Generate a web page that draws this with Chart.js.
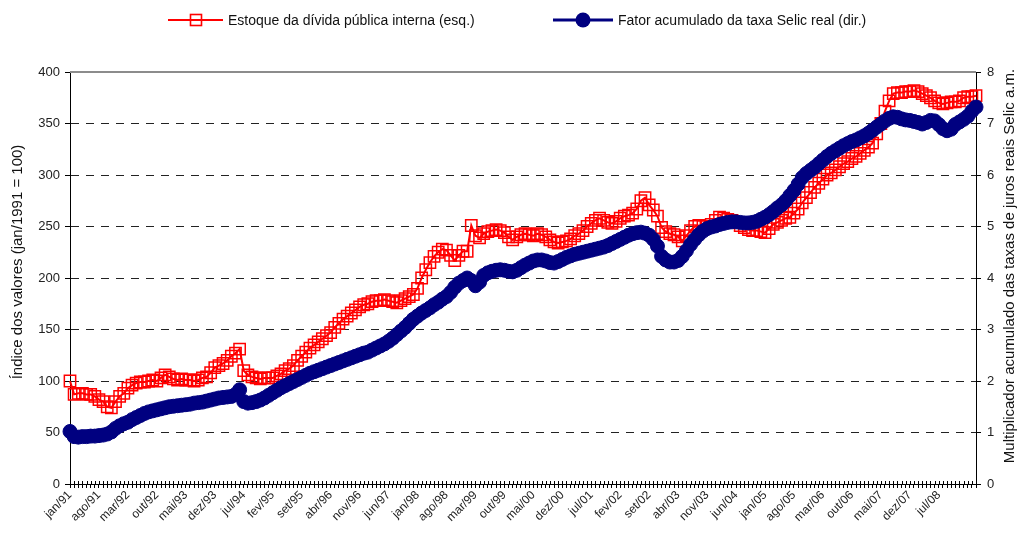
<!DOCTYPE html>
<html><head><meta charset="utf-8">
<script src="https://cdn.jsdelivr.net/npm/chart.js@4/dist/chart.umd.min.js"></script>
<style>
html,body{margin:0;padding:0;background:#fff;}
#wrap{position:relative;width:1018px;height:534px;overflow:hidden;}
#c{position:absolute;left:0;top:0;}
.leg{position:absolute;top:9px;height:22px;display:flex;align-items:center;font-family:"Liberation Sans",Arial,sans-serif;font-size:14px;color:#111;white-space:nowrap;}
.leg svg{margin-right:5px;}
</style></head>
<body>
<div id="wrap">
<canvas id="c" width="1018" height="534"></canvas>
<div class="leg" style="left:168px"><svg width="55" height="16"><line x1="0" y1="8" x2="55" y2="8" stroke="#ff0000" stroke-width="2"/><rect x="22.5" y="2.5" width="11" height="11" fill="none" stroke="#ff0000" stroke-width="1.6"/></svg><span>Estoque da dívida pública interna (esq.)</span></div>
<div class="leg" style="left:553px"><svg width="60" height="16"><line x1="0" y1="8" x2="60" y2="8" stroke="#000080" stroke-width="3"/><circle cx="30" cy="8" r="7.5" fill="#000080"/></svg><span>Fator acumulado da taxa Selic real (dir.)</span></div>
</div>
<script>
const monthNames = ['jan','fev','mar','abr','mai','jun','jul','ago','set','out','nov','dez'];
const startYear = 1991;

const xTickLabels = ['jan/91','ago/91','mar/92','out/92','mai/93','dez/93','jul/94','fev/95','set/95',
  'abr/96','nov/96','jun/97','jan/98','ago/98','mar/99','out/99','mai/00','dez/00','jul/01','fev/02',
  'set/02','abr/03','nov/03','jun/04','jan/05','ago/05','mar/06','out/06','mai/07','dez/07','jul/08'];

const estoque = [
100, 87, 88, 88, 87, 87, 85, 82, 80, 75, 74, 80,
85, 88, 93, 96, 98, 99, 99, 100, 101, 100, 103, 106,
104, 102, 101, 102, 101, 101, 100, 101, 103, 104, 108, 113,
115, 117, 120, 124, 127, 131, 110, 106, 104, 103, 102, 103,
103, 103, 105, 107, 110, 112, 115, 120, 124, 128, 132, 135,
138, 141, 144, 147, 152, 156, 160, 163, 166, 169, 172, 174,
175, 177, 178, 178, 179, 178, 177, 176, 178, 180, 182, 184,
190, 200, 208, 215, 221, 225, 228, 227, 222, 217, 222, 226,
226, 251, 241, 239, 243, 245, 246, 247, 246, 244, 240, 237,
240, 242, 243, 242, 241, 243, 242, 240, 237, 235, 234, 235,
236, 238, 241, 243, 246, 250, 253, 256, 258, 256, 254, 253,
255, 258, 260, 261, 263, 267, 275, 278, 271, 266, 260, 249,
245, 243, 242, 240, 236, 241, 246, 250, 251, 250, 250, 252,
256, 259, 258, 257, 256, 254, 251, 249, 247, 246, 246, 245,
244, 248, 252, 254, 256, 258, 259, 263, 267, 273, 278, 283,
288, 292, 296, 300, 302, 305, 308, 311, 313, 316, 318, 321,
324, 327, 331, 340, 350, 362, 372, 379, 380, 380, 381, 381,
382, 381, 379, 377, 375, 372, 370, 369, 370, 371, 371, 372,
375, 376, 376, 377
];

const selic = [
1.02, 0.92, 0.91, 0.92, 0.92, 0.93, 0.93, 0.94, 0.95, 0.97, 1.01, 1.08,
1.13, 1.17, 1.20, 1.25, 1.29, 1.33, 1.37, 1.40, 1.42, 1.44, 1.46, 1.48,
1.50, 1.51, 1.52, 1.53, 1.54, 1.55, 1.57, 1.58, 1.59, 1.61, 1.63, 1.65,
1.67, 1.68, 1.69, 1.70, 1.74, 1.83, 1.60, 1.57, 1.58, 1.60, 1.63, 1.67,
1.72, 1.77, 1.82, 1.87, 1.91, 1.95, 1.99, 2.03, 2.07, 2.11, 2.15, 2.18,
2.21, 2.24, 2.27, 2.30, 2.33, 2.36, 2.39, 2.42, 2.45, 2.48, 2.51, 2.54,
2.56, 2.60, 2.64, 2.68, 2.72, 2.77, 2.83, 2.90, 2.97, 3.04, 3.12, 3.20,
3.26, 3.32, 3.37, 3.42, 3.48, 3.53, 3.59, 3.64, 3.72, 3.82, 3.90, 3.95,
4.00, 3.95, 3.85, 3.92, 4.05, 4.10, 4.13, 4.15, 4.16, 4.15, 4.13, 4.12,
4.15, 4.20, 4.25, 4.29, 4.33, 4.35, 4.35, 4.33, 4.30, 4.29, 4.32, 4.36,
4.40, 4.43, 4.46, 4.48, 4.50, 4.52, 4.54, 4.56, 4.58, 4.60, 4.63, 4.67,
4.71, 4.75, 4.79, 4.83, 4.86, 4.88, 4.89, 4.87, 4.83, 4.75, 4.62, 4.42,
4.35, 4.31, 4.31, 4.34, 4.42, 4.53, 4.65, 4.75, 4.84, 4.91, 4.96, 4.99,
5.01, 5.04, 5.06, 5.08, 5.09, 5.09, 5.08, 5.07, 5.07, 5.08, 5.10, 5.14,
5.18, 5.23, 5.29, 5.36, 5.42, 5.50, 5.60, 5.70, 5.82, 5.95, 6.03, 6.09,
6.15, 6.22, 6.29, 6.36, 6.42, 6.47, 6.52, 6.57, 6.61, 6.65, 6.68, 6.72,
6.76, 6.81, 6.87, 6.93, 6.99, 7.05, 7.10, 7.13, 7.12, 7.09, 7.07, 7.06,
7.04, 7.02, 6.99, 7.02, 7.06, 7.05, 6.98, 6.90, 6.86, 6.89, 6.98, 7.03,
7.08, 7.14, 7.24, 7.32
];

const leftTitle = 'Índice dos valores (jan/1991 = 100)';
const rightTitle = 'Multiplicador acumulado das taxas de juros reais Selic a.m.';
const leftTicks = [0, 50, 100, 150, 200, 250, 300, 350, 400];
const rightTicks = [0, 1, 2, 3, 4, 5, 6, 7, 8];

const labels = [];
for (let i = 0; i < estoque.length; i++) {
  const y = startYear + Math.floor(i / 12);
  labels.push(monthNames[i % 12] + '/' + String(y).slice(2));
}

const FONT = '"Liberation Sans",Arial,sans-serif';

const decor = {
  id: 'decor',
  afterDraw(chart) {
    const ctx = chart.ctx;
    const a = chart.chartArea;
    const xs = chart.scales.x;
    ctx.save();
    ctx.strokeStyle = '#8c8c8c';
    ctx.lineWidth = 2;
    ctx.beginPath();
    ctx.moveTo(a.left, a.top);
    ctx.lineTo(a.right, a.top);
    ctx.stroke();
    ctx.strokeStyle = '#000';
    ctx.lineWidth = 1;
    ctx.beginPath();
    for (let i = 0; i < xs.ticks.length; i++) {
      const x = Math.round(xs.getPixelForTick(i)) + 0.5;
      ctx.moveTo(x, a.bottom - 3);
      ctx.lineTo(x, a.bottom);
    }
    ctx.stroke();
    ctx.fillStyle = '#111';
    ctx.font = '15px ' + FONT;
    ctx.textAlign = 'center';
    ctx.textBaseline = 'middle';
    ctx.save();
    ctx.translate(18, 262);
    ctx.rotate(-Math.PI / 2);
    ctx.fillText(leftTitle, 0, 0);
    ctx.restore();
    ctx.save();
    ctx.translate(1010, 266);
    ctx.rotate(-Math.PI / 2);
    ctx.fillText(rightTitle, 0, 0);
    ctx.restore();
    ctx.restore();
  }
};

new Chart(document.getElementById('c'), {
  type: 'line',
  data: {
    labels: labels,
    datasets: [
      {
        label: 'Fator acumulado da taxa Selic real (dir.)',
        data: selic,
        yAxisID: 'y1',
        borderColor: '#000080',
        backgroundColor: '#000080',
        borderWidth: 3,
        pointStyle: 'circle',
        pointRadius: 7,
        pointBorderWidth: 1,
        pointBackgroundColor: '#000080',
        pointBorderColor: '#000080',
        tension: 0,
        order: 0
      },
      {
        label: 'Estoque da dívida pública interna (esq.)',
        data: estoque,
        yAxisID: 'y',
        borderColor: '#ff0000',
        backgroundColor: 'rgba(0,0,0,0)',
        borderWidth: 2,
        pointStyle: 'rect',
        pointRadius: 8,
        pointBorderWidth: 1.5,
        pointBackgroundColor: 'rgba(0,0,0,0)',
        pointBorderColor: '#ff0000',
        tension: 0,
        order: 1
      }
    ]
  },
  options: {
    responsive: false,
    animation: false,
    devicePixelRatio: 1,
    layout: { padding: { top: 72, left: 0, right: 0, bottom: 0 } },
    plugins: { legend: { display: false }, tooltip: { enabled: false } },
    scales: {
      x: {
        type: 'category',
        offset: false,
        grid: { drawOnChartArea: false, drawTicks: true, tickLength: 4, color: '#000', lineWidth: 1 },
        border: { color: '#000', width: 1 },
        ticks: {
          autoSkip: false, maxRotation: 45, minRotation: 45, padding: 0,
          color: '#222', font: { family: FONT, size: 12 },
          callback: (v, i) => (xTickLabels.includes(labels[i]) ? labels[i] : '')
        },
        afterFit: s => { s.height = 50; }
      },
      y: {
        position: 'left',
        min: 0, max: 400,
        afterBuildTicks: s => { s.ticks = leftTicks.map(v => ({ value: v })); },
        grid: {
          color: c => (c.tick && (c.tick.value === 0 || c.tick.value === 400)) ? 'rgba(0,0,0,0)' : '#222',
          tickColor: '#000', tickLength: 5, lineWidth: 1, tickBorderDash: []
        },
        border: { color: '#000', width: 1, dash: [8, 7] },
        ticks: { color: '#222', font: { family: FONT, size: 13 }, padding: 5 },
        afterFit: s => { s.width = 70; }
      },
      y1: {
        position: 'right',
        min: 0, max: 8,
        afterBuildTicks: s => { s.ticks = rightTicks.map(v => ({ value: v })); },
        grid: { drawOnChartArea: false, tickColor: '#000', tickLength: 5, lineWidth: 1 },
        border: { color: '#000', width: 1 },
        ticks: { color: '#222', font: { family: FONT, size: 13 }, padding: 6 },
        afterFit: s => { s.width = 42; }
      }
    }
  },
  plugins: [decor]
});
</script>
</body></html>
